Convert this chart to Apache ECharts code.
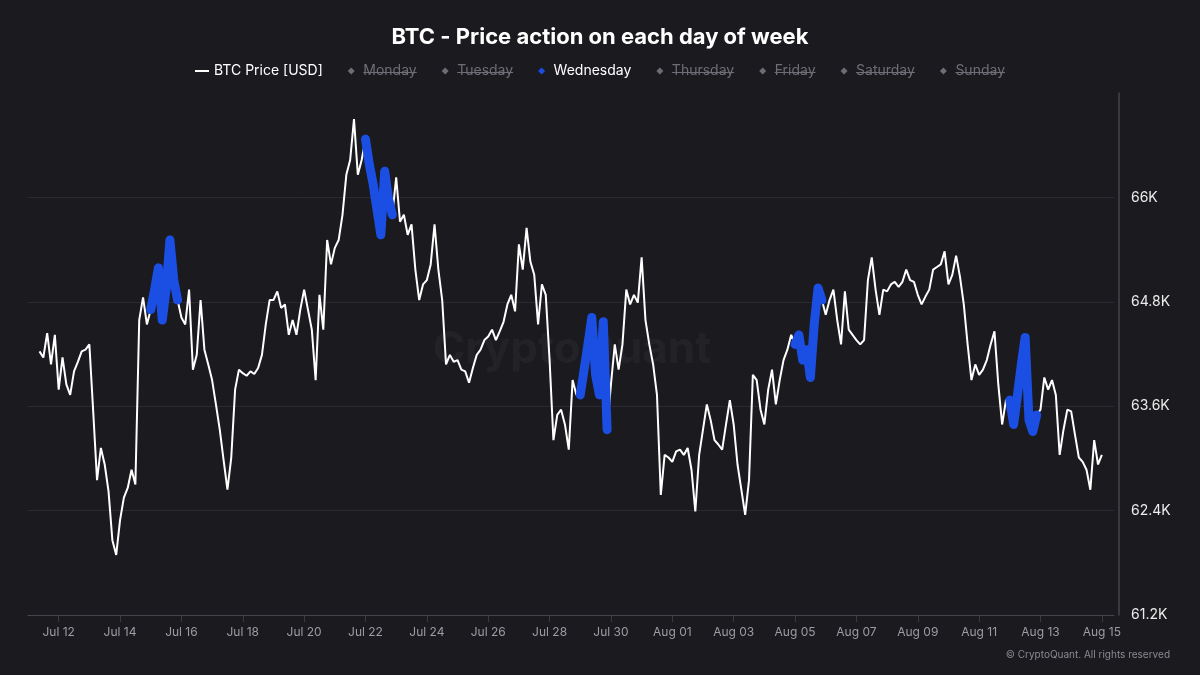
<!DOCTYPE html>
<html>
<head>
<meta charset="utf-8">
<title>BTC - Price action on each day of week</title>
<script src="https://cdn.jsdelivr.net/npm/echarts@6/dist/echarts.min.js"></script>
<style>
    html, body { margin: 0; padding: 0; background: #1b1a1f; }
    #container { width: 1200px; height: 675px; }
</style>
</head>
<body>
<div id="container"></div>
<script>
// first reading Jul 11 09:00, then every 3 hours
var startTime = Date.UTC(2026, 6, 11, 9);
var stepHours = 3;

var btcPrice = [
    64230, 64160, 64440, 64080, 64420,                          // Jul 11
    63790, 64160, 63850, 63730, 64000, 64110, 64230, 64250,     // Jul 12
    64310, 63540, 62750, 63120, 62930, 62620, 62060, 61890,     // Jul 13
    62290, 62550, 62660, 62870, 62700, 64590, 64850, 64540,     // Jul 14
    64710, 64940, 65190, 64590, 64940, 65510, 65050, 64820,     // Jul 15
    64620, 64540, 64940, 64020, 64190, 64820, 64250, 64080,     // Jul 16
    63900, 63620, 63330, 62980, 62640, 63010, 63790, 64020,     // Jul 17
    63980, 63950, 64000, 63970, 64040, 64190, 64540, 64820,     // Jul 18
    64820, 64920, 64730, 64770, 64420, 64590, 64420, 64710,     // Jul 19
    64940, 64710, 64480, 63900, 64880, 64480, 65510, 65230,     // Jul 20
    65420, 65510, 65800, 66260, 66430, 66900, 66260, 66430,     // Jul 21
    66670, 66380, 66150, 65860, 65570, 66300, 65980, 65800,     // Jul 22
    66230, 65720, 65800, 65570, 65690, 65170, 64820, 65000,     // Jul 23
    65050, 65230, 65690, 65170, 64820, 64080, 64190, 64110,     // Jul 24
    64130, 64020, 64000, 63870, 64040, 64190, 64250, 64360,     // Jul 25
    64400, 64480, 64360, 64460, 64570, 64770, 64880, 64690,     // Jul 26
    65460, 65170, 65650, 65260, 65110, 64540, 65000, 64880,     // Jul 27
    64130, 63210, 63500, 63560, 63390, 63100, 63900, 63730,     // Jul 28
    63730, 64020, 64310, 64620, 63960, 63730, 64570, 63330,     // Jul 29
    63850, 64310, 64020, 64310, 64940, 64770, 64880, 64790,     // Jul 30
    65310, 64590, 64310, 64080, 63730, 62580, 63040, 63010,     // Jul 31
    62960, 63080, 63100, 63040, 63120, 62870, 62390, 63040,     // Aug 01
    63330, 63620, 63440, 63210, 63160, 63100, 63390, 63670,     // Aug 02
    63390, 62930, 62640, 62350, 62750, 63960, 63900, 63560,     // Aug 03
    63390, 63790, 64020, 63620, 63900, 64130, 64250, 64420,     // Aug 04
    64310, 64420, 64130, 64250, 63930, 64540, 64960, 64820,     // Aug 05
    64650, 64820, 64940, 64590, 64310, 64920, 64480, 64420,     // Aug 06
    64360, 64310, 64360, 65050, 65310, 64940, 64650, 64940,     // Aug 07
    64920, 65000, 65030, 64970, 65030, 65170, 65050, 65030,     // Aug 08
    64880, 64770, 64860, 64940, 65170, 65200, 65230, 65380,     // Aug 09
    65000, 65110, 65330, 65090, 64770, 64310, 63900, 64080,     // Aug 10
    63960, 64020, 64130, 64310, 64460, 63850, 63390, 63670,     // Aug 11
    63670, 63390, 63730, 64080, 64390, 63440, 63310, 63500,     // Aug 12
    63560, 63930, 63790, 63900, 63730, 63040, 63330, 63560,     // Aug 13
    63540, 63270, 63010, 62960, 62870, 62640, 63210, 62930,     // Aug 14
    63040                                                       // Aug 15
];

var dayNames = ['Monday', 'Tuesday', 'Wednesday', 'Thursday', 'Friday', 'Saturday', 'Sunday'];
var dayNumbers = [1, 2, 3, 4, 5, 6, 0];
var dayColors = ['#e0623a', '#e3b23c', '#1b4fe4', '#3fb27f', '#9b59d0', '#d94f8a', '#38a8d8'];
var shownDays = ['Wednesday'];

var tickDates = ['2026-07-12', '2026-07-14', '2026-07-16', '2026-07-18', '2026-07-20', '2026-07-22',
    '2026-07-24', '2026-07-26', '2026-07-28', '2026-07-30', '2026-08-01', '2026-08-03',
    '2026-08-05', '2026-08-07', '2026-08-09', '2026-08-11', '2026-08-13', '2026-08-15'];

var monthNames = ['Jan', 'Feb', 'Mar', 'Apr', 'May', 'Jun', 'Jul', 'Aug', 'Sep', 'Oct', 'Nov', 'Dec'];
var inactiveGrey = '#6d6d75';
var diamond = 'path://M5,0 L10,5 L5,10 L0,5 Z';
var dash = 'path://M0,0 L14,0 L14,2 L0,2 Z';

var dom = document.getElementById('container');
var myChart = echarts.init(dom, null, { renderer: 'canvas' });

var times = btcPrice.map(function (v, i) { return startTime + i * stepHours * 3600000; });
var tickTimes = tickDates.map(function (d) { return Date.parse(d + 'T00:00:00Z'); });

function dateLabel(v) {
    var d = new Date(v);
    var day = d.getUTCDate();
    return monthNames[d.getUTCMonth()] + ' ' + (day < 10 ? '0' + day : day);
}

var series = [{
    name: 'BTC Price [USD]',
    type: 'line',
    symbol: 'none',
    color: '#ffffff',
    lineStyle: { color: '#ffffff', width: 2 },
    z: 2,
    data: btcPrice.map(function (v, i) { return [times[i], v]; })
}];

dayNames.forEach(function (name, k) {
    series.push({
        name: name,
        type: 'line',
        symbol: 'none',
        color: dayColors[k],
        lineStyle: { color: dayColors[k], width: 9, cap: 'round', join: 'round' },
        z: 3,
        data: btcPrice.map(function (v, i) {
            var wd = new Date(times[i]).getUTCDay();
            return [times[i], wd === dayNumbers[k] ? v : null];
        })
    });
});

var selected = {};
dayNames.forEach(function (n) { selected[n] = shownDays.indexOf(n) >= 0; });

var baseGraphics = [
    {
        type: 'text', silent: true, z: 1,
        x: 572, y: 350,
        style: {
            text: 'CryptoQuant', fill: 'rgba(255,255,255,0.035)',
            font: 'bold 44px Inter, Roboto, sans-serif', align: 'center', verticalAlign: 'middle'
        }
    },
    {
        type: 'text', silent: true,
        x: 1170, y: 655,
        style: {
            text: '\u00a9 CryptoQuant. All rights reserved', fill: '#8a8a92',
            font: '10px Inter, Roboto, sans-serif', align: 'right', verticalAlign: 'middle'
        }
    }
];

var option = {
    backgroundColor: '#1b1a1f',
    animation: false,
    textStyle: { fontFamily: 'Inter, Roboto, sans-serif' },
    title: {
        text: 'BTC - Price action on each day of week',
        left: 'center',
        top: 21,
        textStyle: { color: '#ffffff', fontSize: 22, fontWeight: 'bold', fontFamily: 'Inter, Roboto, sans-serif' }
    },
    legend: {
        top: 59,
        left: 'center',
        itemGap: 25,
        itemWidth: 14,
        itemHeight: 7,
        inactiveColor: inactiveGrey,
        textStyle: { color: '#ffffff', fontSize: 14 },
        selected: selected,
        data: [{ name: 'BTC Price [USD]', icon: dash }].concat(dayNames.map(function (n) {
            return { name: n, icon: diamond };
        }))
    },
    grid: { left: 28, right: 86, top: 93, bottom: 60, containLabel: false, outerBoundsMode: 'none' },
    xAxis: {
        type: 'value',
        min: Date.UTC(2026, 6, 11, 0),
        max: Date.UTC(2026, 7, 15, 9, 30),
        axisLine: { show: true, onZero: false, lineStyle: { color: '#45454d', width: 1 } },
        axisTick: { show: true, customValues: tickTimes, length: 7, lineStyle: { color: '#3b3b43' } },
        axisLabel: { customValues: tickTimes, formatter: dateLabel, color: '#9c9ca4', fontSize: 12, margin: 11 },
        splitLine: { show: false }
    },
    yAxis: {
        type: 'value',
        position: 'right',
        min: 61200,
        max: 67200,
        interval: 1200,
        offset: 5,
        axisLine: { show: true, lineStyle: { color: '#45454d', width: 1.5 } },
        axisTick: { show: false },
        axisLabel: {
            color: '#ececec', fontSize: 14, margin: 12, showMaxLabel: false,
            formatter: function (v) { return (v / 1000) + 'K'; }
        },
        splitLine: { show: true, showMaxLine: false, lineStyle: { color: '#2a2a31', width: 1 } }
    },
    graphic: { elements: baseGraphics },
    series: series
};

myChart.setOption(option, true);

// strike through the legend names of hidden days
function strikeLegend() {
    var marks = [];
    myChart.getZr().storage.getRoots().forEach(function (root) {
        var visit = function (el) {
            if (el.type === 'text' && el.style && dayNames.indexOf(el.style.text) >= 0
                && shownDays.indexOf(el.style.text) < 0) {
                var box = el.getBoundingRect().clone();
                var m = el.getComputedTransform();
                if (m) box.applyTransform(m);
                var y = Math.round(box.y + box.height * 0.55) + 0.5;
                marks.push({
                    type: 'line', silent: true,
                    shape: { x1: box.x, y1: y, x2: box.x + box.width, y2: y },
                    style: { stroke: inactiveGrey, lineWidth: 1.2 }
                });
            }
        };
        if (root.traverse) root.traverse(visit); else visit(root);
    });
    myChart.setOption({ graphic: { elements: baseGraphics.concat(marks) } });
}
try { strikeLegend(); } catch (e) { console.log(e); }
</script>
</body>
</html>
